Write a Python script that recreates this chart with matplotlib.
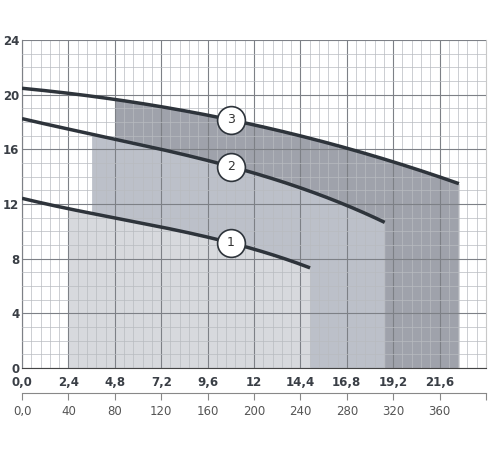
import numpy as np
import matplotlib
matplotlib.use("Agg")
import matplotlib.pyplot as plt

xs = [0, 2.4, 4.8, 7.2, 9.6, 12, 14.4, 16.8, 19.2, 21.6, 22.6]
c3 = [20.5, 20.1, 19.6, 19.1, 18.5, 17.9, 17.0, 16.1, 15.0, 13.9, 13.6]
x2 = [0, 2.4, 4.8, 7.2, 9.6, 12, 14.4, 16.8, 18.76]
c2 = [18.2, 17.6, 16.7, 16.0, 15.2, 14.2, 13.2, 12.0, 10.6]
x1 = [0, 2.4, 4.8, 7.2, 9.6, 12, 14.4, 14.9]
c1 = [12.4, 11.7, 11.0, 10.3, 9.5, 8.8, 7.6, 7.3]
reg_start = [2.4, 3.6, 4.8]
labels = ["1", "2", "3"]
label_x = [10.8, 10.8, 10.8]
xticks = [0, 2.4, 4.8, 7.2, 9.6, 12, 14.4, 16.8, 19.2, 21.6]
xticklabels = ["0,0", "2,4", "4,8", "7,2", "9,6", "12", "14,4", "16,8", "19,2", "21,6"]
qticks = [0, 40, 80, 120, 160, 200, 240, 280, 320, 360]

fig = plt.figure(figsize=(5, 4.5), dpi=100)
ax = fig.add_axes([0.044, 0.182, 0.928, 0.729])
ax.set_xlim(0, 24)
ax.set_ylim(0, 24)

def smooth(x, y, start=0):
    p = np.polyfit(x, y, 3)
    xf = np.linspace(start, x[-1], 200)
    return xf, np.polyval(p, xf)

def fill(x, y, start, color):
    xf, yf = smooth(x, y, start)
    ax.fill_between(xf, 0, yf, color=color, lw=0, zorder=0.5)

fill(xs, c3, reg_start[2], "#9fa2ab")
fill(x2, c2, reg_start[1], "#bcc0c9")
fill(x1, c1, reg_start[0], "#d7d9dd")

for x, y in [(xs, c3), (x2, c2), (x1, c1)]:
    xf, yf = smooth(x, y)
    ax.plot(xf, yf, color="#2e343b", lw=2.5, zorder=3, solid_capstyle="butt")

for lab, lx, (x, y) in zip(labels, label_x, [(x1, c1), (x2, c2), (xs, c3)]):
    ly = np.polyval(np.polyfit(x, y, 3), lx)
    ax.plot(lx, ly, 'o', ms=20, mfc="white", mec="#2e343b", mew=1.2, zorder=4)
    ax.text(lx, ly, lab, ha="center", va="center", fontsize=9, color="#333", zorder=5)

ax.set_xticks(xticks)
ax.set_xticklabels(xticklabels, fontweight="bold", fontsize=8.5, color="#3a3f46")
ax.set_xticks(np.arange(0, 24.01, 0.48), minor=True)
ax.set_yticks(range(0, 25, 4))
ax.set_yticklabels([str(v) for v in range(0, 25, 4)], fontweight="bold", fontsize=8.5, color="#3a3f46")
ax.set_yticks(range(0, 25), minor=True)
ax.grid(which="major", color="#7d8086", lw=0.8, zorder=1)
ax.grid(which="minor", color="#b8bbc0", lw=0.5, zorder=1)
ax.set_axisbelow(False)
ax.tick_params(which="both", length=0, pad=6)
ax.tick_params(axis="y", pad=2)
ax.spines["top"].set_visible(False)
ax.spines["right"].set_color("#c8c8c8")
ax.spines["bottom"].set_color("#444")
ax.spines["left"].set_color("#444")

sec = ax.secondary_xaxis(-0.076, functions=(lambda x: x * 400 / 24, lambda q: q * 24 / 400))
sec.set_xticks(qticks + [400])
sec.set_xticklabels([f"{q:.1f}".replace(".", ",") if q == 0 else str(q) for q in qticks] + [""], fontsize=8.5, color="#555")
sec.tick_params(length=5, color="#888", direction="out")
sec.spines["bottom"].set_color("#888")

fig.savefig("out.png", dpi=100)
